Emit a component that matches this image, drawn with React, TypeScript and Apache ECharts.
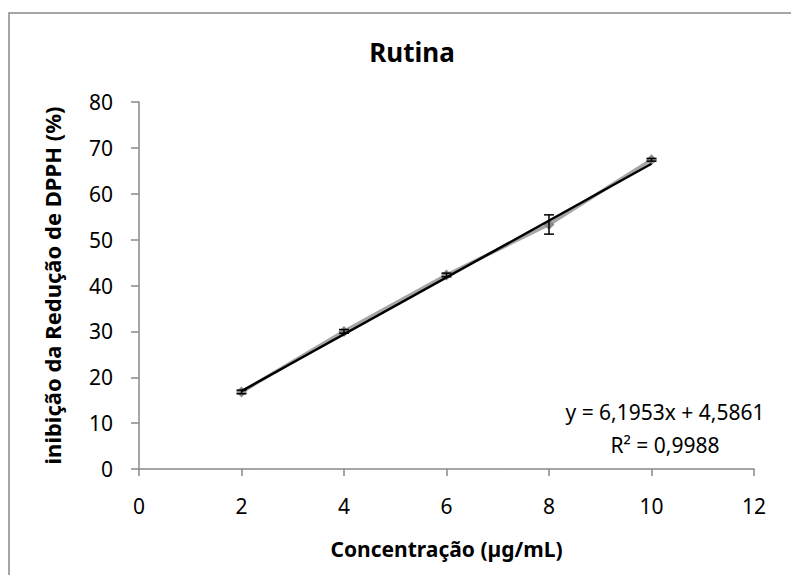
import React, { useEffect, useRef } from "react";
import * as echarts from "echarts";

const concentrations = [2, 4, 6, 8, 10];
const inhibition = [16.8, 30.0, 42.3, 53.3, 67.4];
const errors = [0.4, 0.4, 0.4, 2.1, 0.3];
const slope = 6.1953;
const intercept = 4.5861;
const trendRange = [2, 10];
const equationText = "y = 6,1953x + 4,5861";
const r2Text = "R² = 0,9988";
const titleText = "Rutina";
const xAxisTitle = "Concentração (µg/mL)";
const yAxisTitle = "inibição da Redução de DPPH (%)";

const FONT = "'Noto Sans', 'Open Sans', sans-serif";

export default function App() {
  const ref = useRef<HTMLDivElement>(null);
  useEffect(() => {
    if (!ref.current) return;
    const chart = echarts.init(ref.current, null, { renderer: "svg" });
    const points = concentrations.map((x, i) => [x, inhibition[i]]);
    const errData = concentrations.map((x, i) => [x, inhibition[i] - errors[i], inhibition[i] + errors[i]]);
    const trend = trendRange.map((x) => [x, slope * x + intercept]);
    chart.setOption({
      animation: false,
      backgroundColor: "#ffffff",
      title: {
        text: titleText,
        left: 407,
        top: 34,
        textAlign: "center",
        textStyle: { fontFamily: FONT, fontSize: 26, fontWeight: "bold", color: "#000" },
      },
      graphic: [
        {
          type: "rect",
          shape: { x: 9, y: 13, width: 800, height: 600 },
          style: { fill: "none", stroke: "#888888", lineWidth: 1.5 },
          silent: true,
        },
        {
          type: "text",
          x: 665,
          y: 412,
          style: { text: equationText, fontFamily: FONT, fontSize: 21, fill: "#000", textAlign: "center", textVerticalAlign: "middle" },
        },
        {
          type: "text",
          x: 665,
          y: 445,
          style: { text: r2Text, fontFamily: FONT, fontSize: 21, fill: "#000", textAlign: "center", textVerticalAlign: "middle" },
        },
      ],
      grid: { left: 139, right: 37, top: 102, bottom: 106, containLabel: false },
      xAxis: {
        type: "value",
        min: 0,
        max: 12,
        interval: 2,
        name: xAxisTitle,
        nameLocation: "middle",
        nameGap: 69,
        nameMoveOverlap: false,
        nameTextStyle: { fontFamily: FONT, fontSize: 21, fontWeight: "bold", color: "#000" },
        axisLine: { show: true, lineStyle: { color: "#888888", width: 1.5 } },
        axisTick: { show: true, inside: false, length: 7, lineStyle: { color: "#888888", width: 1.5 } },
        axisLabel: { fontFamily: FONT, fontSize: 21, color: "#000", margin: 26 },
        splitLine: { show: false },
      },
      yAxis: {
        type: "value",
        min: 0,
        max: 80,
        interval: 10,
        name: yAxisTitle,
        nameLocation: "middle",
        nameGap: 76,
        nameMoveOverlap: false,
        nameRotate: 90,
        nameTextStyle: { fontFamily: FONT, fontSize: 22, fontWeight: "bold", color: "#000" },
        axisLine: { show: true, lineStyle: { color: "#888888", width: 1.5 } },
        axisTick: { show: true, inside: false, length: 8, lineStyle: { color: "#888888", width: 1.5 } },
        axisLabel: { fontFamily: FONT, fontSize: 21, color: "#000", margin: 26 },
        splitLine: { show: false },
      },
      series: [
        {
          type: "line",
          data: points,
          symbol: "diamond",
          symbolSize: 11,
          itemStyle: { color: "#8a8a8a" },
          lineStyle: { color: "#a6a6a6", width: 3.5 },
          z: 2,
        },
        {
          type: "line",
          data: trend,
          symbol: "none",
          lineStyle: { color: "#000000", width: 2.5 },
          z: 3,
        },
        {
          type: "custom",
          data: errData,
          z: 4,
          renderItem: (params: any, api: any) => {
            const x = api.value(0);
            const lo = api.coord([x, api.value(1)]);
            const hi = api.coord([x, api.value(2)]);
            const cap = 5;
            const st = { stroke: "#000", lineWidth: 1.5 };
            return {
              type: "group",
              children: [
                { type: "line", shape: { x1: lo[0], y1: lo[1], x2: hi[0], y2: hi[1] }, style: st },
                { type: "line", shape: { x1: lo[0] - cap, y1: lo[1], x2: lo[0] + cap, y2: lo[1] }, style: st },
                { type: "line", shape: { x1: hi[0] - cap, y1: hi[1], x2: hi[0] + cap, y2: hi[1] }, style: st },
              ],
            };
          },
        },
      ],
    });
    return () => chart.dispose();
  }, []);
  return <div ref={ref} style={{ position: "absolute", left: 0, top: 0, width: 791, height: 575 }} />;
}
